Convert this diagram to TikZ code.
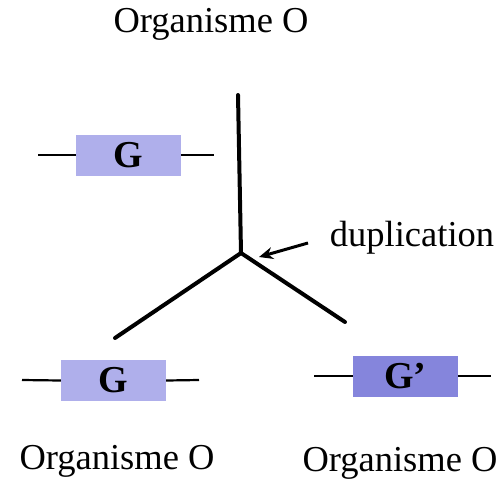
\documentclass[tikz,border=0pt]{standalone}
\usepackage{fontspec}
\setmainfont{Liberation Serif}
\usepackage{xcolor}
\usetikzlibrary{arrows.meta, positioning}
\definecolor{genelight}{RGB}{175,175,235}
\definecolor{genedark}{RGB}{133,133,220}

\begin{document}
\begin{tikzpicture}[x=1pt, y=-1pt,
  gene/.style={rectangle, minimum width=105pt, minimum height=41pt, inner sep=0pt, font=\fontsize{38}{40}\selectfont\bfseries},
  label/.style={font=\fontsize{36.5}{40}\selectfont, inner sep=0pt},
  branch/.style={line width=4pt, line cap=round},
  strand/.style={line width=2.2pt}]
  \useasboundingbox (0,0) rectangle (502,482);
  % titles
  \node[label] (top) at (211,24) {Organisme O};
  \node[label] (dup) at (412,238) {duplication};
  \node[label] (botL) at (117,461) {Organisme O};
  \node[label] (botR) at (400,463) {Organisme O};
  % tree
  \coordinate (root) at (238,95);
  \coordinate (fork) at (241,253);
  \coordinate (leftend) at (115,338);
  \coordinate (rightend) at (345,322);
  \draw[branch] (root) -- (fork);
  \draw[branch] (fork) -- (leftend);
  \draw[branch] (fork) -- (rightend);
  \coordinate (dupstart) at (308,243);
  \coordinate (duptip) at (259,257);
  \draw[line width=3pt, -{Stealth[length=14pt, width=12pt]}] (dupstart) -- (duptip);
  % genes
  \node[gene, fill=genelight] (G0) at (128.5,155) {G};
  \coordinate (G0l) at (38,155);
  \coordinate (G0r) at (214,155);
  \draw[strand] (G0l) -- (G0.west);
  \draw[strand] (G0.east) -- (G0r);
  \node[gene, fill=genelight] (G1) at (113.5,380.5) {G};
  \coordinate (G1l) at (22,380);
  \coordinate (G1r) at (199,380);
  \draw[strand] (G1l) -- (G1.west);
  \draw[strand] (G1.east) -- (G1r);
  \node[gene, fill=genedark] (G2) at (405.5,376) {G’};
  \coordinate (G2l) at (314,376);
  \coordinate (G2r) at (491,376);
  \draw[strand] (G2l) -- (G2.west);
  \draw[strand] (G2.east) -- (G2r);
\end{tikzpicture}
\end{document}
